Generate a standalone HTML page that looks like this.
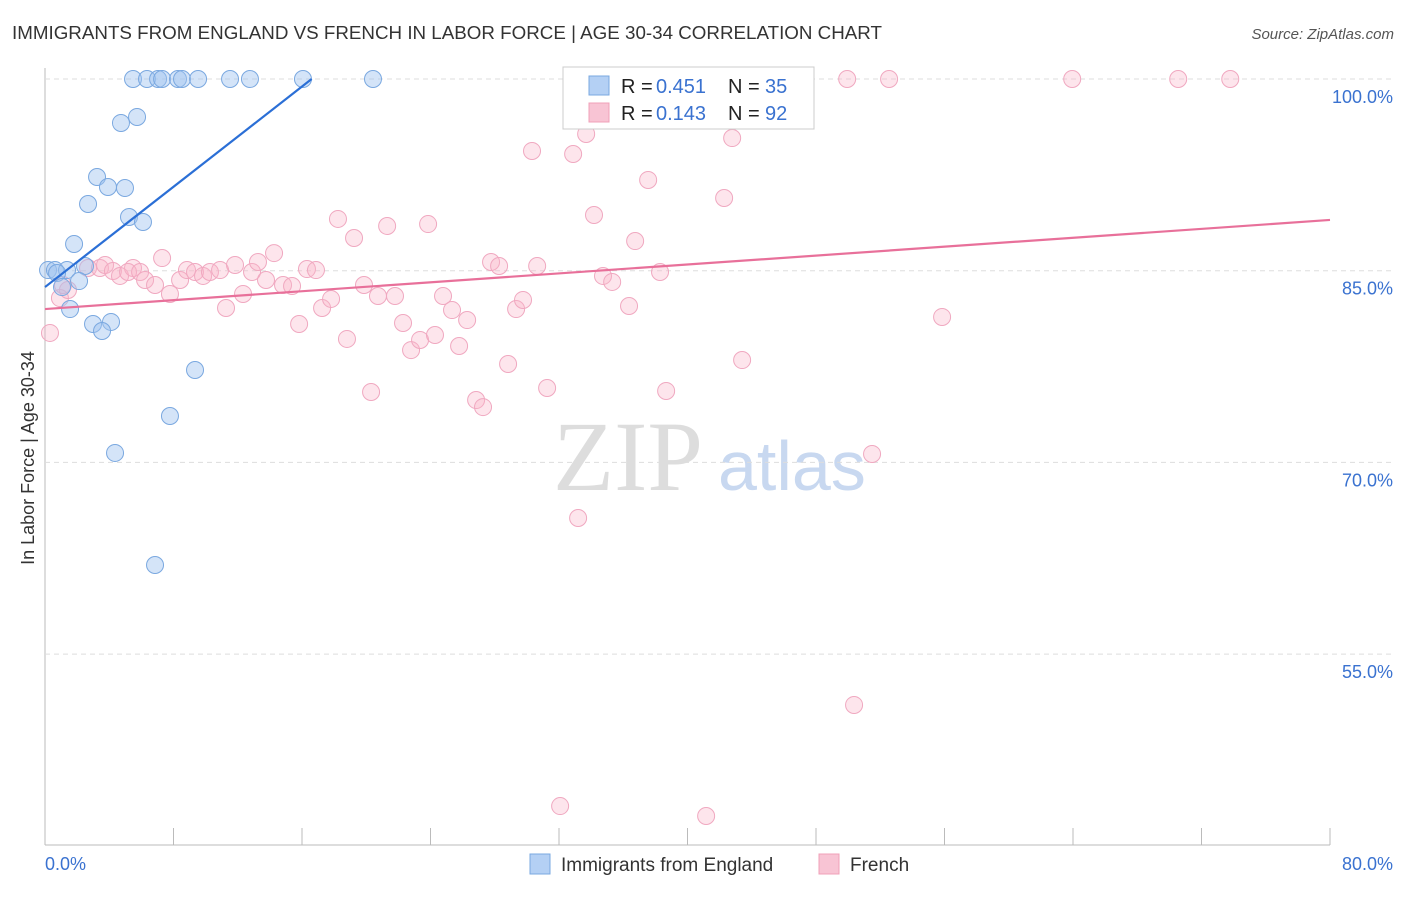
<!DOCTYPE html>
<html><head><meta charset="utf-8"><style>
body{margin:0;background:#fff;font-family:"Liberation Sans",sans-serif;}
</style></head><body>
<svg id="chart" width="1406" height="892" xmlns="http://www.w3.org/2000/svg">
<text x="12" y="39" font-size="18" fill="#333" textLength="870" lengthAdjust="spacingAndGlyphs">IMMIGRANTS FROM ENGLAND VS FRENCH IN LABOR FORCE | AGE 30-34 CORRELATION CHART</text>
<text x="1394" y="39" font-size="15" fill="#555" font-style="italic" text-anchor="end">Source: ZipAtlas.com</text>
<text x="34" y="458" font-size="18" fill="#333" text-anchor="middle" transform="rotate(-90 34 458)">In Labor Force | Age 30-34</text>
<text x="553" y="490" font-size="100" fill="#ddd" font-family="Liberation Serif,serif">ZIP</text>
<text x="718" y="490" font-size="70" fill="#c8d8f0">atlas</text>
<g id="grid"></g><g id="marks"></g><g id="lines"></g>
<g>
<rect x="563" y="67" width="251" height="62" fill="#fff" stroke="#ccc"/>
<rect x="589" y="76" width="20" height="19" fill="#b4d0f4" stroke="#7aa8e0"/>
<rect x="589" y="103" width="20" height="19" fill="#f8c4d4" stroke="#f0a0b8"/>
<g font-size="20" fill="#222">
<text x="621" y="93">R =</text><text x="656" y="93" fill="#3a72d0">0.451</text><text x="728" y="93">N =</text><text x="765" y="93" fill="#3a72d0">35</text></g>
<g font-size="20" fill="#222">
<text x="621" y="120">R =</text><text x="656" y="120" fill="#3a72d0">0.143</text><text x="728" y="120">N =</text><text x="765" y="120" fill="#3a72d0">92</text></g>
</g>
<g>
<rect x="530" y="854" width="20" height="20" fill="#b4d0f4" stroke="#7aa8e0"/>
<text x="561" y="871" font-size="19" fill="#333">Immigrants from England</text>
<rect x="819" y="854" width="20" height="20" fill="#f8c4d4" stroke="#f0a0b8"/>
<text x="850" y="871" font-size="19" fill="#333">French</text>
</g>
</svg>
<script>
const yTicks=[100,85,70,55];
const yTickLabels=["100.0%","85.0%","70.0%","55.0%"];
const xTicks=[0,8,16,24,32,40,48,56,64,72,80];
const englandX=[5.48,6.35,7.04,7.29,8.28,8.53,9.53,11.52,12.76,16.06,20.42,4.73,5.73,3.24,3.92,4.98,2.68,5.23,6.10,1.81,0.19,0.62,1.37,2.49,0.75,2.12,1.06,1.56,2.99,4.11,3.55,9.34,7.78,4.36,6.85];
const englandY=[100,100,100,100,100,100,100,100,100,100,100,96.56,97.03,92.33,91.55,91.47,90.22,89.2,88.81,87.09,85.05,85.05,85.05,85.37,84.82,84.19,83.72,82.0,80.83,80.99,80.28,77.23,73.63,70.74,61.97];
const frenchX=[0.31,0.93,1.43,1.12,2.68,3.42,3.74,4.23,4.67,5.48,5.17,5.92,6.23,6.85,7.29,7.78,8.41,8.84,9.34,9.84,10.27,10.90,11.27,11.83,12.33,12.89,13.26,13.76,14.26,14.82,15.38,15.82,16.31,16.87,17.25,17.81,18.24,18.80,19.24,19.86,20.30,20.73,21.30,21.79,22.29,22.79,23.35,23.85,24.28,24.78,25.34,25.78,26.28,26.84,27.27,27.77,28.27,28.83,29.33,29.76,30.32,30.64,31.26,32.07,32.88,33.19,33.69,34.18,34.74,35.31,35.80,36.36,36.74,37.55,37.98,38.29,38.67,41.03,41.16,41.78,42.28,42.78,43.40,49.94,50.37,51.49,52.55,55.85,63.95,70.55,73.79];
const frenchY=[80.13,82.86,83.49,83.88,85.21,85.21,85.45,84.98,84.59,85.21,84.90,84.90,84.27,83.88,85.99,83.18,84.27,85.05,84.90,84.59,84.90,85.05,82.08,85.45,83.18,84.90,85.68,84.27,86.38,83.88,83.80,80.83,85.13,85.05,82.08,82.79,89.05,79.66,87.56,83.88,75.51,83.02,88.50,83.02,80.91,78.79,79.58,88.65,79.97,83.02,81.92,79.11,81.14,74.88,74.33,85.68,85.37,77.70,82.00,82.71,94.37,85.37,75.82,43.11,94.13,65.65,95.70,89.36,84.59,84.12,100,82.24,87.32,92.10,100,84.90,75.59,100,42.33,100,90.69,95.38,78.01,100,51.02,70.66,100,81.38,100,100,100];
const englandTrend=[0,83.72,16.6,100];
const frenchTrend=[0,82.0,80,88.97];
const NS="http://www.w3.org/2000/svg";
function xs(v){return 45+v*16.0625;}
function ys(v){return 79+(100-v)*12.78;}
function mk(tag,attrs,parent){const e=document.createElementNS(NS,tag);for(const k in attrs)e.setAttribute(k,attrs[k]);document.getElementById(parent).appendChild(e);return e;}
const ax=mk('line',{x1:45,y1:68,x2:45,y2:845,stroke:'#bbb'},'grid');


const bx=mk('line',{x1:45,y1:845,x2:1330,y2:845,stroke:'#bbb'},'grid');


yTicks.forEach((t,i)=>{
 const g=mk('line',{x1:45,y1:ys(t),x2:1394,y2:ys(t),stroke:'#ddd','stroke-dasharray':'5,4'},'grid');
 
 
 const l=mk('text',{x:1393,y:ys(t)+24,'font-size':18,fill:'#3a72d0','text-anchor':'end'},'grid');
 l.textContent=yTickLabels[i];
 
 
});
xTicks.forEach(t=>{
 const k=mk('line',{x1:xs(t),y1:828,x2:xs(t),y2:845,stroke:'#bbb'},'grid');
 
 
});
const x0=mk('text',{x:45,y:870,'font-size':18,fill:'#3a72d0'},'grid');x0.textContent='0.0%';


const x1=mk('text',{x:1393,y:870,'font-size':18,fill:'#3a72d0','text-anchor':'end'},'grid');x1.textContent='80.0%';


frenchX.forEach((v,i)=>{
 const c=mk('circle',{cx:xs(v),cy:ys(frenchY[i]),r:8.5,fill:'rgba(248,180,200,0.35)',stroke:'#f0a8c0','stroke-width':1},'marks');
 
 
});
englandX.forEach((v,i)=>{
 const c=mk('circle',{cx:xs(v),cy:ys(englandY[i]),r:8.5,fill:'rgba(160,196,240,0.45)',stroke:'#7aa8e0','stroke-width':1},'marks');
 
 
});
const l1=mk('line',{x1:xs(englandTrend[0]),y1:ys(englandTrend[1]),x2:xs(englandTrend[2]),y2:ys(englandTrend[3]),stroke:'#2b6fd6','stroke-width':2.2},'lines');


const l2=mk('line',{x1:xs(frenchTrend[0]),y1:ys(frenchTrend[1]),x2:xs(frenchTrend[2]),y2:ys(frenchTrend[3]),stroke:'#e8709a','stroke-width':2.2},'lines');


</script>
</body></html>
